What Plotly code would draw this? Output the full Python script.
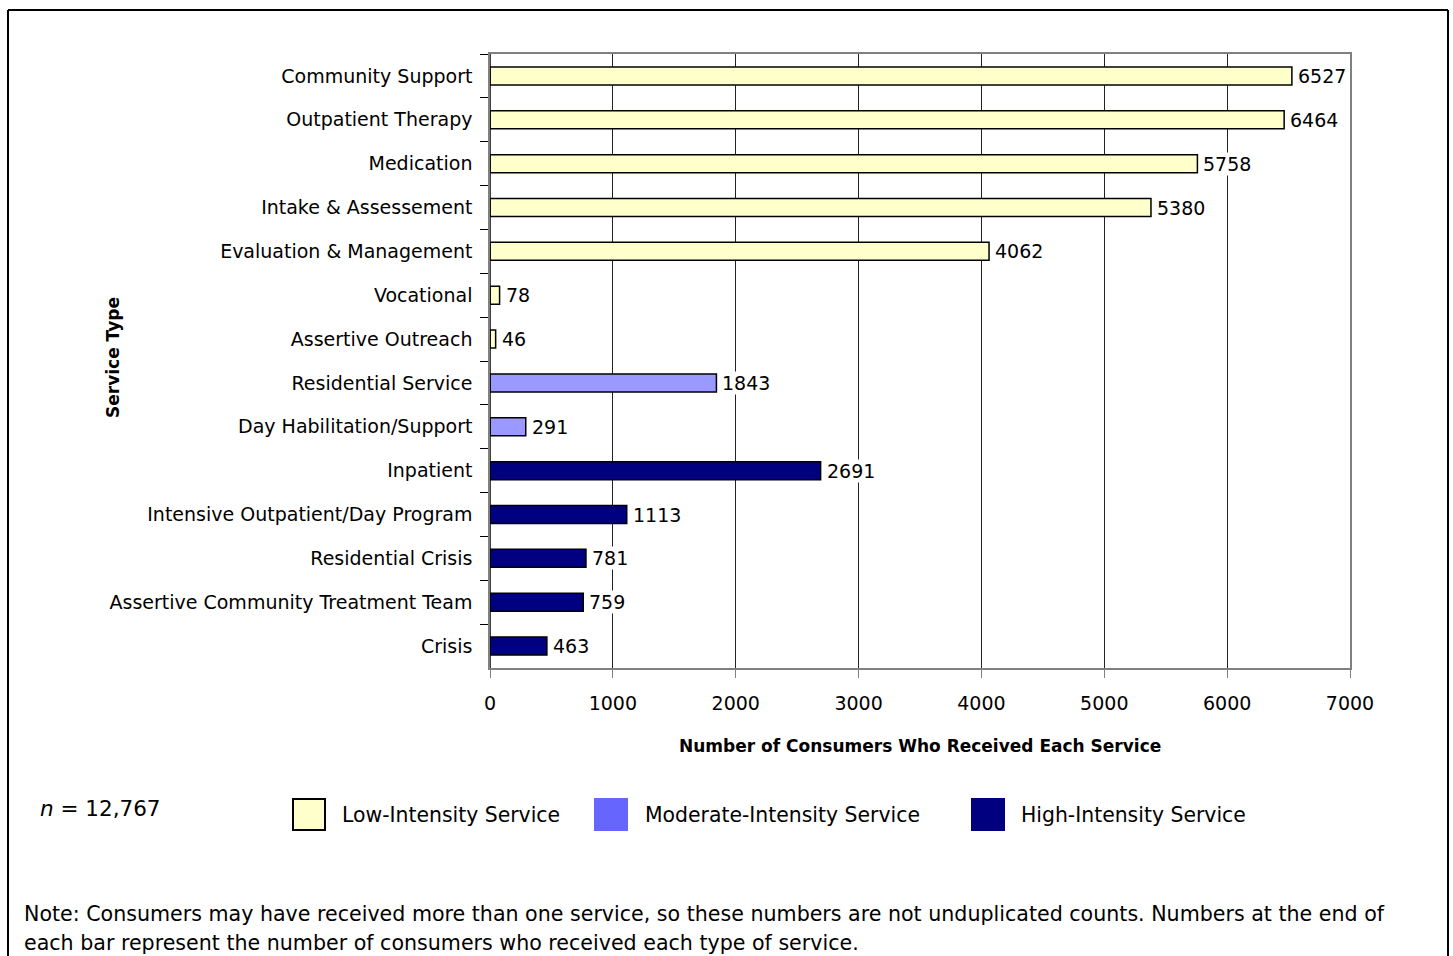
import plotly.graph_objects as go

categories = ["Community Support", "Outpatient Therapy", "Medication", "Intake & Assessement",
              "Evaluation & Management", "Vocational", "Assertive Outreach",
              "Residential Service", "Day Habilitation/Support",
              "Inpatient", "Intensive Outpatient/Day Program", "Residential Crisis",
              "Assertive Community Treatment Team", "Crisis"]
low_cats = categories[:7]
low_vals = [6527, 6464, 5758, 5380, 4062, 78, 46]
mod_cats = categories[7:9]
mod_vals = [1843, 291]
high_cats = categories[9:]
high_vals = [2691, 1113, 781, 759, 463]
x_ticks = [0, 1000, 2000, 3000, 4000, 5000, 6000, 7000]

W, H = 1453, 956
L, R, T, B = 490, 1350, 54, 668
FONT = "DejaVu Sans"

def px(x):
    return (x - L) / (R - L)

def py(y):
    return (B - y) / (B - T)

fig = go.Figure()
series = [("Low-Intensity Service", low_cats, low_vals, "#FFFFCC"),
          ("Moderate-Intensity Service", mod_cats, mod_vals, "#9999FF"),
          ("High-Intensity Service", high_cats, high_vals, "#000080")]
for name, cats, vals, col in series:
    fig.add_trace(go.Bar(y=cats, x=vals, orientation="h", name=name, width=0.41,
                         marker=dict(color=col, line=dict(color="black", width=1.5)),
                         showlegend=False, hoverinfo="x+y"))

annotations = []
for name, cats, vals, col in series:
    for c, v in zip(cats, vals):
        annotations.append(dict(x=v, y=c, xref="x", yref="y", text=str(v), showarrow=False,
                                xanchor="left", xshift=5, bgcolor="white", borderpad=0,
                                font=dict(size=19, color="black", family=FONT)))

def ptext(x, y, text, size, xanchor="left", **kw):
    annotations.append(dict(x=px(x), y=py(y), xref="paper", yref="paper", text=text,
                            showarrow=False, xanchor=xanchor, yanchor="middle",
                            font=dict(size=size, family=FONT, color="black"), **kw))

ptext(920, 746, "<b>Number of Consumers Who Received Each Service</b>", 17, xanchor="center")
ptext(113, 358, "<b>Service Type</b>", 17, xanchor="center", textangle=-90)
ptext(38, 808, "<i>n</i> = 12,767", 21.5)
ptext(22, 914, "Note: Consumers may have received more than one service, so these numbers are not unduplicated counts. Numbers at the end of", 20.6)
ptext(22, 943, "each bar represent the number of consumers who received each type of service.", 20.6)

shapes = []
legend_items = [(293, 340, "#FFFFCC", "black", "Low-Intensity Service"),
                (595, 643, "#6666FF", "#6666FF", "Moderate-Intensity Service"),
                (972, 1019, "#000080", "#000080", "High-Intensity Service")]
for sx, tx, fc, lc, label in legend_items:
    shapes.append(dict(type="rect", xref="paper", yref="paper", x0=px(sx), x1=px(sx + 32),
                       y0=py(830), y1=py(799), fillcolor=fc, line=dict(color=lc, width=2)))
    ptext(tx, 815, label, 20.4)

# left axis black line
shapes.append(dict(type="line", xref="x", yref="paper", x0=0, x1=0, y0=0, y1=1,
                   line=dict(color="black", width=1.5)))
# outer frame
for x0, y0, x1, y1 in [(8, 10, 1448, 10), (8, 10, 8, 960), (1448, 10, 1448, 960)]:
    shapes.append(dict(type="line", xref="paper", yref="paper", x0=px(x0), x1=px(x1), y0=py(y0), y1=py(y1),
                       line=dict(color="black", width=2)))

fig.update_layout(
    width=W, height=H, margin=dict(l=L, r=W - R, t=T, b=H - B),
    paper_bgcolor="white", plot_bgcolor="white",
    font=dict(family=FONT, size=19, color="black"),
    bargap=0.59, annotations=annotations, shapes=shapes, showlegend=False,
    xaxis=dict(range=[0, 7000], tickvals=x_ticks, ticktext=[str(t) for t in x_ticks],
               showgrid=True, gridcolor="#222222", gridwidth=1, zeroline=False,
               showline=True, linecolor="#808080", linewidth=1.5, mirror=True,
               ticks="outside", ticklen=8, tickcolor="#808080", ticklabelstandoff=9,
               tickfont=dict(size=19, family=FONT, color="black")),
    yaxis=dict(categoryorder="array", categoryarray=categories, autorange="reversed",
               type="category", tickson="boundaries", ticks="outside", ticklen=8, tickcolor="black",
               showline=True, linecolor="#808080", linewidth=1.5, mirror=True, showgrid=False,
               ticklabelstandoff=12, tickfont=dict(size=19, family=FONT, color="black")),
)

fig.write_html("out.html")
